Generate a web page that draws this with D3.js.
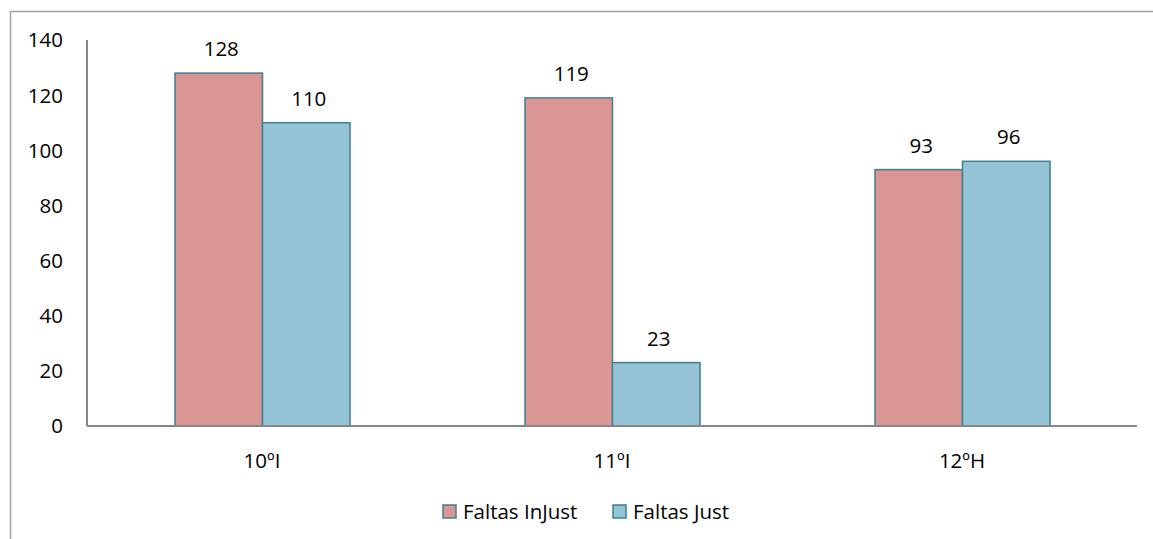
<!DOCTYPE html>
<html>
<head>
<meta charset="utf-8">
<script src="https://cdn.jsdelivr.net/npm/d3@7/dist/d3.min.js"></script>
<style>
  html, body { margin: 0; padding: 0; background: #fff; }
  svg { display: block; font-family: "Open Sans", Lato, sans-serif; }
</style>
</head>
<body>
<div id="chart"></div>
<script>
// Values.
const categories = ['10ºI', '11ºI', '12ºH'];
const seriesNames = ['Faltas InJust', 'Faltas Just'];
const injust = [128, 119, 93];
const just = [110, 23, 96];
const yTicks = [0, 20, 40, 60, 80, 100, 120, 140];

const colors = ['#d99694', '#93c3d4'];
const barStroke = '#3f7f91';
const axisGray = '#868686';
const fontSize = 20.5;

const width = 1153, height = 539;
const margin = { left: 87, right: 16, top: 40, bottom: 113 };

const svg = d3.select('#chart').append('svg')
  .attr('width', width).attr('height', height);

// Outer chart frame (only top and left edges are inside the picture)
svg.append('rect')
  .attr('x', 10.5).attr('y', 11.5)
  .attr('width', 1300).attr('height', 700)
  .attr('fill', 'none').attr('stroke', '#a0a0a0').attr('stroke-width', 1.5);

const x = d3.scaleBand().domain(categories)
  .range([margin.left, width - margin.right]);
const x1 = d3.scaleBand().domain(seriesNames)
  .range([0, x.bandwidth()]).paddingOuter(1);
const y = d3.scaleLinear().domain([0, 140])
  .range([height - margin.bottom, margin.top]);

const rows = categories.map((c, i) => ({ cat: c, values: [injust[i], just[i]] }));

// y tick labels, no tick marks
svg.append('g').selectAll('text').data(yTicks).join('text')
  .attr('x', 63).attr('y', (d) => y(d)).attr('dy', '0.36em')
  .attr('text-anchor', 'end').attr('font-size', fontSize).attr('fill', '#000')
  .text((d) => d);

// bars
const groups = svg.append('g').selectAll('g').data(rows).join('g')
  .attr('transform', (d) => `translate(${x(d.cat)},0)`);

groups.selectAll('rect').data((d) => d.values.map((v, k) => ({ v, k })))
  .join('rect')
  .attr('x', (d) => x1(seriesNames[d.k]) + 0.5)
  .attr('y', (d) => y(d.v))
  .attr('width', x1.bandwidth())
  .attr('height', (d) => y(0) - y(d.v))
  .attr('fill', (d) => colors[d.k])
  .attr('stroke', barStroke).attr('stroke-width', 1.5);

groups.selectAll('text').data((d) => d.values.map((v, k) => ({ v, k })))
  .join('text')
  .attr('x', (d) => x1(seriesNames[d.k]) + x1.bandwidth() / 2 + 3)
  .attr('y', (d) => y(d.v) - 17)
  .attr('text-anchor', 'middle').attr('font-size', fontSize).attr('fill', '#000')
  .text((d) => d.v);

// axis lines
svg.append('line')
  .attr('x1', margin.left).attr('x2', margin.left)
  .attr('y1', y(140)).attr('y2', y(0))
  .attr('stroke', axisGray).attr('stroke-width', 2);
svg.append('line')
  .attr('x1', margin.left).attr('x2', width - margin.right)
  .attr('y1', y(0)).attr('y2', y(0))
  .attr('stroke', axisGray).attr('stroke-width', 2);

// category labels
svg.append('g').selectAll('text').data(categories).join('text')
  .attr('x', (d) => x(d) + x.bandwidth() / 2)
  .attr('y', y(0) + 42)
  .attr('text-anchor', 'middle').attr('font-size', fontSize).attr('fill', '#000')
  .text((d) => d);

// legend
const legendX = [443, 613];
const legend = svg.append('g').selectAll('g').data(seriesNames).join('g')
  .attr('transform', (d, i) => `translate(${legendX[i]},505)`);
legend.append('rect')
  .attr('width', 13).attr('height', 13)
  .attr('fill', (d, i) => colors[i])
  .attr('stroke', barStroke).attr('stroke-width', 1.5);
legend.append('text')
  .attr('x', 20).attr('y', 14)
  .attr('font-size', fontSize).attr('fill', '#000')
  .text((d) => d);
</script>
</body>
</html>
